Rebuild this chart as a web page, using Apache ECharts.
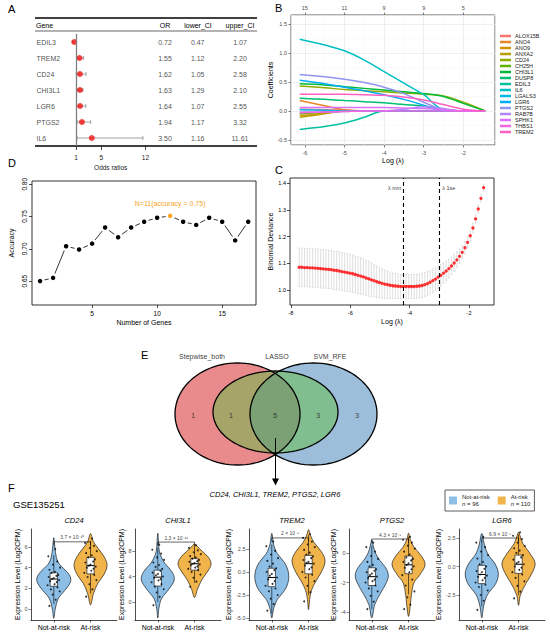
<!DOCTYPE html>
<html lang="en">
<head>
<meta charset="utf-8">
<title>Gene selection figure</title>
<script src="https://cdn.jsdelivr.net/npm/echarts@6/dist/echarts.min.js"></script>
<style>
  html, body { margin: 0; padding: 0; background: #fff; }
  #main { width: 550px; height: 637px; }
</style>
</head>
<body>
<div id="main"></div>
<script>
var FONT = "'Liberation Sans', Arial, Helvetica, sans-serif";

// ---------- A: odds ratio table ----------
var genesA = ['EDIL3', 'TREM2', 'CD24', 'CHI3L1', 'LGR6', 'PTGS2', 'IL6'];
var orVals = [0.72, 1.55, 1.62, 1.63, 1.64, 1.94, 3.50];
var lowerCI = [0.47, 1.12, 1.05, 1.29, 1.07, 1.17, 1.16];
var upperCI = [1.07, 2.20, 2.58, 2.10, 2.55, 3.32, 11.61];
var orTicks = [1, 5, 12];

// ---------- B: lasso coefficient paths ----------
var coefGenes = ['ALOX15B', 'ANO4', 'ANO9', 'ANXA2', 'CD24', 'CH25H', 'CHI3L1', 'DUSP8', 'EDIL3',
  'IL6', 'LGALS3', 'LGR6', 'PTGS2', 'RAB7B', 'SPHK1', 'THBS1', 'TREM2'];
var coefColors = ['#F8766D', '#E88526', '#D39200', '#B79F00', '#93AA00', '#5EB300', '#00BA38', '#00BF74',
  '#00C19F', '#00BFC4', '#00B9E3', '#00ADFA', '#8F95F0', '#AE87FF', '#DB72FB', '#F564E3', '#FF61C3'];
var pathLogLambda = [-6.13, -5.5, -5.0, -4.5, -4.0, -3.5, -3.0, -2.5, -2.0, -1.45];
var coefALOX15B = [0.03, 0.02, 0.01, 0, 0, 0, 0, 0, 0, 0];
var coefANO4 = [0.18, 0.09, 0.02, 0, 0, 0, 0, 0, 0, 0];
var coefANO9 = [-0.08, -0.04, 0, 0, 0, 0, 0, 0, 0, 0];
var coefANXA2 = [-0.11, -0.05, 0, 0, 0, 0, 0, 0, 0, 0];
var coefCD24 = [0.43, 0.40, 0.37, 0.35, 0.33, 0.31, 0.29, 0.26, 0.15, 0];
var coefCH25H = [-0.05, -0.02, 0, 0, 0, 0, 0, 0, 0, 0];
var coefCHI3L1 = [0.47, 0.45, 0.42, 0.39, 0.36, 0.33, 0.30, 0.25, 0.13, 0];
var coefDUSP8 = [0.22, 0.20, 0.18, 0.16, 0.14, 0.11, 0.08, 0.03, 0, 0];
var coefEDIL3 = [-0.32, -0.27, -0.21, -0.11, 0, 0, 0, 0, 0, 0];
var coefIL6 = [1.24, 1.14, 1.04, 0.88, 0.68, 0.48, 0.28, 0.02, 0, 0];
var coefLGALS3 = [0.02, 0.01, 0, 0, 0, 0, 0, 0, 0, 0];
var coefLGR6 = [0.53, 0.47, 0.41, 0.35, 0.28, 0.20, 0.10, 0, 0, 0];
var coefPTGS2 = [0.63, 0.59, 0.55, 0.49, 0.41, 0.30, 0.15, 0.02, 0, 0];
var coefRAB7B = [-0.02, -0.02, -0.01, 0, 0, 0.03, 0.07, 0.04, 0, 0];
var coefSPHK1 = [0.06, 0.06, 0.06, 0.06, 0.06, 0.05, 0.04, 0.02, 0, 0];
var coefTHBS1 = [-0.03, -0.02, -0.01, 0, 0, 0, 0, 0, 0, 0];
var coefTREM2 = [0.29, 0.29, 0.29, 0.28, 0.27, 0.24, 0.19, 0.11, 0.03, 0];
var coefPaths = [coefALOX15B, coefANO4, coefANO9, coefANXA2, coefCD24, coefCH25H, coefCHI3L1, coefDUSP8,
  coefEDIL3, coefIL6, coefLGALS3, coefLGR6, coefPTGS2, coefRAB7B, coefSPHK1, coefTHBS1, coefTREM2];
var dfLogLambda = [-6, -5, -4, -3, -2];
var dfCounts = [15, 11, 9, 9, 5];

// ---------- D: SVM-RFE accuracy ----------
var nGenes = [1, 2, 3, 4, 5, 6, 7, 8, 9, 10, 11, 12, 13, 14, 15, 16, 17];
var accuracy = [0.650, 0.655, 0.704, 0.699, 0.708, 0.733, 0.718, 0.733, 0.742, 0.748, 0.751,
  0.742, 0.737, 0.748, 0.742, 0.713, 0.742];
var bestN = 11;

// ---------- C: cross-validation deviance ----------
var cvLogLambda = [-7.72, -7.63, -7.54, -7.45, -7.36, -7.27, -7.18, -7.09, -7.00, -6.91, -6.82, -6.73,
  -6.64, -6.55, -6.46, -6.37, -6.28, -6.19, -6.10, -6.01, -5.92, -5.83, -5.74, -5.65, -5.56, -5.47,
  -5.38, -5.29, -5.20, -5.11, -5.02, -4.93, -4.84, -4.75, -4.66, -4.57, -4.48, -4.39, -4.30, -4.21,
  -4.12, -4.03, -3.94, -3.85, -3.76, -3.67, -3.58, -3.49, -3.40, -3.31, -3.22, -3.13, -3.04, -2.95,
  -2.86, -2.77, -2.68, -2.59, -2.50, -2.41, -2.32, -2.23, -2.14, -2.05, -1.96, -1.87, -1.78, -1.69,
  -1.60, -1.51];
var cvDeviance = [1.085, 1.085, 1.084, 1.084, 1.083, 1.083, 1.082, 1.081, 1.080, 1.079, 1.078, 1.077,
  1.076, 1.074, 1.073, 1.071, 1.069, 1.067, 1.065, 1.063, 1.061, 1.058, 1.055, 1.052, 1.049, 1.045,
  1.042, 1.038, 1.035, 1.031, 1.028, 1.025, 1.022, 1.020, 1.018, 1.016, 1.015, 1.014, 1.013, 1.013,
  1.013, 1.013, 1.013, 1.013, 1.014, 1.015, 1.017, 1.020, 1.024, 1.029, 1.035, 1.041, 1.048, 1.055,
  1.063, 1.071, 1.080, 1.090, 1.101, 1.113, 1.126, 1.141, 1.158, 1.178, 1.203, 1.232, 1.266, 1.303,
  1.343, 1.383];
var cvSE = [0.072, 0.072, 0.072, 0.072, 0.072, 0.072, 0.072, 0.072, 0.072, 0.072, 0.072, 0.072,
  0.072, 0.072, 0.072, 0.072, 0.071, 0.071, 0.071, 0.070, 0.070, 0.069, 0.069, 0.068, 0.067, 0.066,
  0.065, 0.063, 0.061, 0.059, 0.057, 0.055, 0.053, 0.051, 0.049, 0.048, 0.047, 0.046, 0.045, 0.045,
  0.045, 0.045, 0.045, 0.045, 0.045, 0.045, 0.045, 0.045, 0.045, 0.044, 0.044, 0.043, 0.042, 0.041,
  0.039, 0.037, 0.035, 0.033, 0.031, 0.029, 0.027, 0.025, 0.023, 0.021, 0.019, 0.018, 0.016, 0.015,
  0.014, 0.013];
var lambdaMin = -4.2;
var lambda1se = -2.99;

// ---------- E: venn ----------
var vennSets = ['Stepwise_both', 'LASSO', 'SVM_RFE'];
var vennCounts = [1, 1, 5, 3, 3];
var finalGenes = ['CD24', 'CHI3L1', 'TREM2', 'PTGS2', 'LGR6'];

// ---------- F: expression violins ----------
var exprGenes = ['CD24', 'CHI3L1', 'TREM2', 'PTGS2', 'LGR6'];
var groups = ['Not-at-risk', 'At-risk'];
var groupN = [96, 110];
var pLabels = ['3.7 \u00d7 10\u207b\u00b9\u2070', '1.3 \u00d7 10\u207b\u00b9\u00b9', '2 \u00d7 10\u207b\u2079',
  '4.3 \u00d7 10\u207b\u2079', '6.9 \u00d7 10\u207b\u2078'];
var sigY = [6.5, 9.4, 3.7, 0.95, 2.5];

// violin outlines: [value, half width]
var cd24NotViolin = [[-0.9, 0], [0, 0.04], [1, 0.12], [1.8, 0.3], [2.5, 0.44], [3.0, 0.46], [3.6, 0.36], [4.3, 0.16], [5, 0.07], [6, 0.03], [6.9, 0]];
var cd24AtViolin = [[0.4, 0], [1.5, 0.08], [2.5, 0.2], [3.3, 0.36], [4.2, 0.45], [5.0, 0.38], [5.8, 0.22], [6.5, 0.08], [7.3, 0]];
var chi3l1NotViolin = [[-2.5, 0], [-1, 0.03], [0.5, 0.1], [2, 0.3], [3.5, 0.45], [4.8, 0.38], [6, 0.2], [7, 0.1], [8, 0.04], [9.5, 0.02], [10.8, 0]];
var chi3l1AtViolin = [[0.7, 0], [2, 0.08], [3.5, 0.2], [5, 0.38], [6, 0.45], [7, 0.38], [8, 0.2], [8.7, 0.08], [9.1, 0]];
var trem2NotViolin = [[-5, 0], [-4, 0.05], [-3, 0.15], [-2, 0.35], [-1, 0.45], [0, 0.45], [1, 0.35], [2, 0.15], [3, 0.05], [4.2, 0]];
var trem2AtViolin = [[-4.1, 0], [-3, 0.03], [-2, 0.08], [-1, 0.2], [0, 0.35], [1.2, 0.45], [2.2, 0.35], [3.2, 0.15], [4, 0.05], [4.6, 0]];
var ptgs2NotViolin = [[-4.4, 0], [-3.5, 0.08], [-2.8, 0.22], [-2, 0.4], [-1.5, 0.45], [-1, 0.38], [-0.5, 0.22], [0, 0.1], [0.5, 0.04], [0.9, 0]];
var ptgs2AtViolin = [[-4.3, 0], [-3.5, 0.05], [-2.8, 0.08], [-2, 0.15], [-1.5, 0.3], [-0.8, 0.45], [-0.2, 0.35], [0.4, 0.15], [0.9, 0.05], [1.35, 0]];
var lgr6NotViolin = [[-4.5, 0], [-3.5, 0.05], [-2.5, 0.15], [-1.5, 0.38], [-0.6, 0.45], [0.3, 0.35], [1, 0.18], [1.8, 0.08], [2.9, 0]];
var lgr6AtViolin = [[-3.4, 0], [-2.5, 0.05], [-1.5, 0.2], [-0.5, 0.38], [0.3, 0.45], [1.2, 0.3], [2, 0.12], [2.6, 0.05], [3.0, 0]];

// boxes: [low whisker, q1, median, q3, high whisker]
var cd24Box = [[0.5, 2.2, 2.9, 3.5, 5.2], [1.5, 3.4, 4.2, 5.0, 6.6]];
var chi3l1Box = [[0, 2.5, 3.9, 5.0, 8.5], [3, 5.0, 6.0, 6.8, 8.9]];
var trem2Box = [[-4.5, -1.6, -0.6, 0.4, 3], [-2.5, -0.2, 0.9, 1.8, 4]];
var ptgs2Box = [[-3.8, -2.2, -1.6, -1.0, 0.5], [-2.8, -1.4, -0.8, -0.2, 1.1]];
var lgr6Box = [[-3.5, -1.5, -0.7, 0.1, 2.3], [-2.5, -0.6, 0.2, 1.0, 2.8]];

// sample points (read by eye, subset)
var cd24NotPts = [0.3, 0.9, 1.4, 1.7, 1.9, 2.1, 2.3, 2.4, 2.6, 2.7, 2.8, 2.9, 3.0, 3.1, 3.2, 3.3, 3.5, 3.6, 3.8, 4.0, 4.3, 4.6, 5.1, 5.8];
var cd24AtPts = [1.2, 1.9, 2.4, 2.8, 3.1, 3.3, 3.5, 3.7, 3.9, 4.0, 4.1, 4.2, 4.3, 4.5, 4.6, 4.8, 5.0, 5.2, 5.4, 5.6, 5.9, 6.1, 6.4, 6.8];
var chi3l1NotPts = [-0.5, 0.8, 1.5, 2.0, 2.4, 2.8, 3.1, 3.4, 3.6, 3.8, 4.0, 4.2, 4.4, 4.6, 4.9, 5.2, 5.5, 5.8, 6.2, 6.6, 7.0, 7.6, 8.2, 9.0];
var chi3l1AtPts = [2.4, 3.2, 3.8, 4.3, 4.7, 5.0, 5.2, 5.4, 5.6, 5.8, 5.9, 6.0, 6.1, 6.3, 6.4, 6.6, 6.8, 7.0, 7.2, 7.5, 7.8, 8.1, 8.5, 8.9];
var trem2NotPts = [-4.2, -3.5, -2.9, -2.5, -2.1, -1.8, -1.5, -1.3, -1.0, -0.8, -0.6, -0.4, -0.2, 0.0, 0.2, 0.4, 0.6, 0.9, 1.2, 1.5, 1.9, 2.3, 2.8, 3.3];
var trem2AtPts = [-3.2, -2.2, -1.5, -1.0, -0.6, -0.3, 0.0, 0.3, 0.5, 0.7, 0.9, 1.0, 1.1, 1.3, 1.5, 1.7, 1.9, 2.1, 2.4, 2.7, 3.0, 3.3, 3.7, 4.1];
var ptgs2NotPts = [-3.8, -3.3, -2.9, -2.6, -2.4, -2.2, -2.0, -1.9, -1.8, -1.7, -1.6, -1.5, -1.4, -1.3, -1.2, -1.1, -0.9, -0.8, -0.6, -0.4, -0.2, 0.1, 0.4, 0.7];
var ptgs2AtPts = [-3.8, -3.5, -3.0, -2.6, -2.2, -1.8, -1.5, -1.3, -1.1, -1.0, -0.9, -0.8, -0.7, -0.6, -0.5, -0.4, -0.3, -0.1, 0.1, 0.3, 0.5, 0.7, 0.9, 1.1];
var lgr6NotPts = [-3.8, -3.0, -2.5, -2.1, -1.8, -1.6, -1.4, -1.2, -1.0, -0.9, -0.8, -0.7, -0.5, -0.4, -0.2, 0.0, 0.2, 0.4, 0.7, 1.0, 1.3, 1.7, 2.1, 2.6];
var lgr6AtPts = [-2.8, -2.2, -1.7, -1.3, -1.0, -0.7, -0.5, -0.3, -0.1, 0.0, 0.2, 0.3, 0.4, 0.6, 0.8, 1.0, 1.2, 1.4, 1.6, 1.8, 2.1, 2.4, 2.7, 3.0];
var jitterX = [-0.12, 0.05, -0.03, 0.16, -0.08, 0.1, -0.17, 0.02, 0.08, -0.1, 0.14, -0.05, 0.0, -0.14, 0.07, 0.12, -0.06, 0.03, -0.12, 0.17, -0.02, 0.09, -0.15, 0.04];

var violinShapes = [[cd24NotViolin, cd24AtViolin], [chi3l1NotViolin, chi3l1AtViolin], [trem2NotViolin, trem2AtViolin],
  [ptgs2NotViolin, ptgs2AtViolin], [lgr6NotViolin, lgr6AtViolin]];
var boxStats = [cd24Box, chi3l1Box, trem2Box, ptgs2Box, lgr6Box];
var exprPoints = [[cd24NotPts, cd24AtPts], [chi3l1NotPts, chi3l1AtPts], [trem2NotPts, trem2AtPts],
  [ptgs2NotPts, ptgs2AtPts], [lgr6NotPts, lgr6AtPts]];

// ================= build chart =================
var chart = echarts.init(document.getElementById('main'), null, {renderer: 'svg'});

var grid = [], xAxis = [], yAxis = [], series = [], graphic = [];
function addPanel(g, xa, ya) {
  g.outerBoundsMode = 'none';
  g.containLabel = false;
  grid.push(g);
  var gi = grid.length - 1;
  xa.gridIndex = gi; ya.gridIndex = gi;
  xAxis.push(xa); yAxis.push(ya);
  return {x: xAxis.length - 1, y: yAxis.length - 1};
}
function txt(x, y, s, size, opt) {
  var st = {x: x, y: y, text: s, fontSize: size, fontFamily: FONT, fill: '#000', align: 'left', verticalAlign: 'middle'};
  for (var k in (opt || {})) st[k] = opt[k];
  graphic.push({type: 'text', silent: true, style: st});
}
function hline(x1, x2, y, w) {
  graphic.push({type: 'line', silent: true, shape: {x1: x1, y1: y, x2: x2, y2: y}, style: {stroke: '#000', lineWidth: w}});
}
var hidden = {show: false};

// panel letters
txt(8, 9, 'A', 11); txt(275, 8, 'B', 11); txt(8, 163, 'D', 11);
txt(275, 170, 'C', 11); txt(141, 355, 'E', 11); txt(8, 488, 'F', 11);

// ---------- A ----------
hline(35, 257, 18, 1.3); hline(35, 257, 31, 0.6); hline(35, 257, 146, 1.3);
txt(36, 25, 'Gene', 7);
txt(165, 25, 'OR', 7, {align: 'center'});
txt(198, 25, 'lower_CI', 7, {align: 'center'});
txt(240, 25, 'upper_CI', 7, {align: 'center'});

var tbl = addPanel({left: 35, top: 34, width: 222, height: 112},
  {type: 'value', min: 0, max: 222, show: false},
  {type: 'category', data: genesA, inverse: true, show: false});
var tableCols = [
  {x: 1, vals: genesA, left: true},
  {x: 130, vals: orVals},
  {x: 162.7, vals: lowerCI},
  {x: 205, vals: upperCI}
];
tableCols.forEach(function (c) {
  series.push({
    type: 'scatter', xAxisIndex: tbl.x, yAxisIndex: tbl.y, symbolSize: 1, silent: true,
    itemStyle: {color: 'rgba(0,0,0,0)'},
    data: c.vals.map(function (v, i) { return [c.x, i, typeof v === 'number' ? v.toFixed(2) : v]; }),
    label: {show: true, position: c.left ? 'right' : 'inside', distance: 0, fontSize: 7, color: '#222',
      fontFamily: FONT, formatter: function (p) { return p.value[2]; }}
  });
});

var fp = addPanel({left: 69.7, top: 34, width: 82, height: 112},
  {type: 'value', min: 0, max: 13, axisLine: {show: false, onZero: false}, splitLine: hidden,
    axisTick: {show: true, customValues: orTicks, length: 4, lineStyle: {color: '#000', width: 0.7}},
    axisLabel: {customValues: orTicks, fontSize: 6.5, color: '#222', margin: 8},
    name: 'Odds ratios', nameLocation: 'middle', nameGap: 18, nameTextStyle: {fontSize: 6.5, color: '#222'}},
  {type: 'category', data: genesA, inverse: true, show: false});
series.push({
  type: 'custom', xAxisIndex: fp.x, yAxisIndex: fp.y, z: 2, silent: true,
  data: genesA.map(function (g, i) { return [lowerCI[i], i, upperCI[i]]; }),
  encode: {x: [0, 2], y: 1},
  renderItem: function (params, api) {
    var a = api.coord([api.value(0), api.value(1)]);
    var b = api.coord([api.value(2), api.value(1)]);
    var st = {stroke: '#8C8C8C', lineWidth: 0.8};
    return {type: 'group', children: [
      {type: 'line', shape: {x1: a[0], y1: a[1], x2: b[0], y2: b[1]}, style: st},
      {type: 'line', shape: {x1: a[0], y1: a[1] - 2, x2: a[0], y2: a[1] + 2}, style: st},
      {type: 'line', shape: {x1: b[0], y1: b[1] - 2, x2: b[0], y2: b[1] + 2}, style: st}
    ]};
  }
});
series.push({
  type: 'scatter', xAxisIndex: fp.x, yAxisIndex: fp.y, z: 3, symbolSize: 6,
  itemStyle: {color: '#F01010'},
  data: orVals.map(function (v, i) { return [v, i]; }),
  markLine: {silent: true, symbol: 'none', label: {show: false},
    lineStyle: {color: '#7F7F7F', width: 1.3, type: 'solid'}, data: [{xAxis: 1}]}
});

// ---------- B ----------
var bp = addPanel({left: 291, top: 15, width: 204, height: 130, show: true, backgroundColor: '#fff',
    borderColor: '#333', borderWidth: 0.8},
  {type: 'value', min: -6.35, max: -1.2, axisLine: {show: false, onZero: false},
    splitLine: {lineStyle: {color: '#EBEBEB', width: 0.8}},
    minorTick: {show: false, splitNumber: 2}, minorSplitLine: {show: true, lineStyle: {color: '#F4F4F4', width: 0.5}},
    axisTick: {length: 2.5, lineStyle: {color: '#333', width: 0.6}},
    axisLabel: {fontSize: 5.5, color: '#4D4D4D', margin: 5, showMinLabel: false, showMaxLabel: false},
    name: 'Log (\u03bb)', nameLocation: 'middle', nameGap: 11, nameTextStyle: {fontSize: 7, color: '#000'}},
  {type: 'value', min: -0.59, max: 1.66, axisLine: {show: false, onZero: false},
    splitLine: {lineStyle: {color: '#EBEBEB', width: 0.8}},
    minorTick: {show: false, splitNumber: 2}, minorSplitLine: {show: true, lineStyle: {color: '#F4F4F4', width: 0.5}},
    axisTick: {show: true, length: 2.5, lineStyle: {color: '#333', width: 0.6}},
    axisLabel: {fontSize: 5.5, color: '#4D4D4D', margin: 4, showMinLabel: false, showMaxLabel: false,
      formatter: function (v) { return v.toFixed(1); }},
    name: 'Coefficients', nameLocation: 'middle', nameGap: 15, nameTextStyle: {fontSize: 7, color: '#000'}});
xAxis.push({gridIndex: grid.length - 1, type: 'value', position: 'top', min: -6.35, max: -1.2,
  axisLine: {show: false, onZero: false}, splitLine: hidden,
  axisTick: {show: true, customValues: dfLogLambda, length: 2.5, lineStyle: {color: '#333', width: 0.6}},
  axisLabel: {customValues: dfLogLambda, fontSize: 5.5, color: '#4D4D4D', margin: 4,
    formatter: function (v) { return String(dfCounts[dfLogLambda.indexOf(v)]); }}});
coefGenes.forEach(function (g, k) {
  series.push({
    type: 'line', name: g, xAxisIndex: bp.x, yAxisIndex: bp.y, smooth: 0.35, showSymbol: false,
    symbol: 'none', silent: true, z: 3,
    lineStyle: {width: 1.5, color: coefColors[k]}, itemStyle: {color: coefColors[k]},
    data: coefPaths[k].map(function (v, i) { return [pathLogLambda[i], v]; })
  });
});

// ---------- D ----------
var dp = addPanel({left: 32, top: 181, width: 224, height: 124, show: true, borderColor: '#000', borderWidth: 0.8},
  {type: 'value', min: 0.38, max: 17.6, splitLine: hidden, axisLine: {show: false, onZero: false},
    axisTick: {customValues: [5, 10, 15], length: 3, lineStyle: {color: '#000', width: 0.7}},
    axisLabel: {customValues: [5, 10, 15], fontSize: 6.5, color: '#000', margin: 5},
    name: 'Number of Genes', nameLocation: 'middle', nameGap: 14, nameTextStyle: {fontSize: 7, color: '#000'}},
  {type: 'value', min: 0.613, max: 0.805, splitLine: hidden, axisLine: {show: false, onZero: false},
    axisTick: {customValues: [0.65, 0.7, 0.75, 0.8], length: 3, lineStyle: {color: '#000', width: 0.7}},
    axisLabel: {customValues: [0.65, 0.7, 0.75, 0.8], rotate: 90, fontSize: 6.5, color: '#000', margin: 4,
      formatter: function (v) { return v.toFixed(2); }},
    name: 'Accuracy', nameLocation: 'middle', nameGap: 17, nameTextStyle: {fontSize: 7, color: '#000'}});
series.push({
  type: 'line', xAxisIndex: dp.x, yAxisIndex: dp.y, symbol: 'circle', symbolSize: 7, z: 3, silent: true,
  lineStyle: {color: '#000', width: 0.8},
  itemStyle: {color: '#000', borderColor: '#fff', borderWidth: 2.5},
  data: accuracy.map(function (v, i) {
    if (nGenes[i] === bestN) {
      return {value: [nGenes[i], v], itemStyle: {color: '#F8A51C'},
        label: {show: true, position: 'top', distance: 4, fontSize: 7, color: '#F8A51C',
          formatter: 'N=' + bestN + '(accuracy = ' + v.toFixed(2) + ')'}};
    }
    return [nGenes[i], v];
  })
});

// ---------- C ----------
var cp = addPanel({left: 290, top: 178, width: 204, height: 127, show: true, borderColor: '#000', borderWidth: 0.8},
  {type: 'value', min: -8.03, max: -1.16, splitLine: hidden, axisLine: {show: false, onZero: false},
    axisTick: {customValues: [-8, -6, -4, -2], length: 3, lineStyle: {color: '#000', width: 0.7}},
    axisLabel: {customValues: [-8, -6, -4, -2], fontSize: 5.5, color: '#000', margin: 4.5},
    name: 'Log (\u03bb)', nameLocation: 'middle', nameGap: 13, nameTextStyle: {fontSize: 7, color: '#000'}},
  {type: 'value', min: 0.944, max: 1.419, splitLine: hidden, axisLine: {show: false, onZero: false},
    axisTick: {customValues: [1.0, 1.1, 1.2, 1.3, 1.4], length: 3, lineStyle: {color: '#000', width: 0.7}},
    axisLabel: {customValues: [1.0, 1.1, 1.2, 1.3, 1.4], fontSize: 5.5, color: '#000', margin: 4,
      formatter: function (v) { return v.toFixed(1); }},
    name: 'Binomial Deviance', nameLocation: 'middle', nameGap: 14, nameTextStyle: {fontSize: 7, color: '#000'}});
series.push({
  type: 'custom', xAxisIndex: cp.x, yAxisIndex: cp.y, z: 2, silent: true,
  data: cvLogLambda.map(function (x, i) { return [x, cvDeviance[i] - cvSE[i], cvDeviance[i] + cvSE[i]]; }),
  encode: {x: 0, y: [1, 2]},
  renderItem: function (params, api) {
    var a = api.coord([api.value(0), api.value(1)]);
    var b = api.coord([api.value(0), api.value(2)]);
    var st = {stroke: '#C4C4C4', lineWidth: 0.55};
    return {type: 'group', children: [
      {type: 'line', shape: {x1: a[0], y1: a[1], x2: b[0], y2: b[1]}, style: st},
      {type: 'line', shape: {x1: a[0] - 0.8, y1: a[1], x2: a[0] + 0.8, y2: a[1]}, style: st},
      {type: 'line', shape: {x1: b[0] - 0.8, y1: b[1], x2: b[0] + 0.8, y2: b[1]}, style: st}
    ]};
  }
});
series.push({
  type: 'scatter', xAxisIndex: cp.x, yAxisIndex: cp.y, z: 3, symbolSize: 3.3, silent: true,
  itemStyle: {color: '#FF0000'},
  data: cvLogLambda.map(function (x, i) { return [x, cvDeviance[i]]; }),
  markLine: {silent: true, symbol: 'none', label: {show: false},
    lineStyle: {color: '#000', width: 1.1, type: [4, 3]},
    data: [{xAxis: lambdaMin}, {xAxis: lambda1se}]}
});
series.push({
  type: 'scatter', xAxisIndex: cp.x, yAxisIndex: cp.y, z: 4, symbolSize: 1, silent: true,
  itemStyle: {color: 'rgba(0,0,0,0)'},
  data: [
    {value: [lambdaMin, 1.381], label: {position: 'left', formatter: '\u03bb min'}},
    {value: [lambda1se, 1.381], label: {position: 'right', formatter: '\u03bb 1se'}}
  ],
  label: {show: true, distance: 2, fontSize: 5.5, color: '#000'}
});

// ---------- E ----------
var vp = addPanel({left: 150, top: 340, width: 250, height: 150},
  {type: 'value', min: 0, max: 250, show: false},
  {type: 'value', min: 0, max: 150, inverse: true, show: false});
var vennShapes = [
  {cx: 87.5, cy: 74, rx: 62.5, ry: 51, fill: 'rgba(211,23,25,0.5)'},
  {cx: 163.5, cy: 74, rx: 63.5, ry: 51, fill: 'rgba(59,125,183,0.5)'},
  {cx: 125.5, cy: 72, rx: 62.5, ry: 41, fill: 'rgba(100,190,70,0.5)'}
];
function ellipseItem(outlineOnly) {
  return function (params, api) {
    var s = vennShapes[params.dataIndex], pts = [];
    for (var t = 0; t < 96; t++) {
      var a = t / 96 * 2 * Math.PI;
      pts.push(api.coord([s.cx + s.rx * Math.cos(a), s.cy + s.ry * Math.sin(a)]));
    }
    return {type: 'polygon', shape: {points: pts},
      style: {fill: outlineOnly ? 'none' : s.fill, stroke: outlineOnly ? '#000' : 'none', lineWidth: 1.3}};
  };
}
[false, true].forEach(function (o) {
  series.push({type: 'custom', xAxisIndex: vp.x, yAxisIndex: vp.y, z: o ? 3 : 2, silent: true,
    data: vennShapes.map(function (s) { return [s.cx, s.cy]; }), renderItem: ellipseItem(o)});
});
var vennCountPos = [[43, 75], [81, 75], [125, 75], [168, 75], [207, 75]];
series.push({
  type: 'scatter', xAxisIndex: vp.x, yAxisIndex: vp.y, z: 4, symbolSize: 1, silent: true,
  itemStyle: {color: 'rgba(0,0,0,0)'},
  data: vennCounts.map(function (c, i) { return [vennCountPos[i][0], vennCountPos[i][1], c]; }),
  label: {show: true, position: 'inside', fontSize: 7.5, color: '#222', formatter: function (p) { return p.value[2]; }},
  markLine: {silent: true, symbol: ['none', 'triangle'], symbolSize: 7, label: {show: false},
    itemStyle: {color: '#000'},
    lineStyle: {color: '#000', width: 1, type: 'solid'},
    data: [[{coord: [125.5, 98]}, {coord: [125.5, 142]}]]}
});
var vennNamePos = [[52, 16], [127, 16], [180, 16]];
series.push({
  type: 'scatter', xAxisIndex: vp.x, yAxisIndex: vp.y, z: 4, symbolSize: 1, silent: true,
  itemStyle: {color: 'rgba(0,0,0,0)'},
  data: vennSets.map(function (s, i) { return [vennNamePos[i][0], vennNamePos[i][1], s]; }),
  label: {show: true, position: 'inside', fontSize: 7, color: '#000', formatter: function (p) { return p.value[2]; }}
});
txt(275, 494, finalGenes.join(', '), 7.5, {align: 'center', fontStyle: 'italic'});

// ---------- F ----------
txt(13, 504, 'GSE135251', 9.5);
var groupColors = ['#8CBEE6', '#F0B44B'];
var vLayout = [
  {left: 31, min: -1.06, max: 7.74, ticks: [0, 2, 4, 6], dec: 0, gap: 10.5},
  {left: 135, min: -2.82, max: 11.45, ticks: [0, 4, 8], dec: 0, gap: 8.5},
  {left: 249, min: -5.22, max: 4.67, ticks: [-5, -2.5, 0, 2.5], dec: 1, gap: 15.5},
  {left: 349, min: -4.54, max: 1.63, ticks: [-4, -2, 0], dec: 0, gap: 10.5},
  {left: 459, min: -4.69, max: 3.29, ticks: [-2.5, 0, 2.5], dec: 1, gap: 13.5}
];
function violinItem(prof, box, g, color) {
  return function (params, api) {
    var pts = [];
    prof.forEach(function (p) { pts.push(api.coord([g + p[1], p[0]])); });
    for (var i = prof.length - 2; i >= 1; i--) pts.push(api.coord([g - prof[i][1], prof[i][0]]));
    var bw = 0.1;
    var q1L = api.coord([g - bw, box[1]]), q3R = api.coord([g + bw, box[3]]);
    var mL = api.coord([g - bw, box[2]]), mR = api.coord([g + bw, box[2]]);
    var lo = api.coord([g, box[0]]), q1 = api.coord([g, box[1]]), q3 = api.coord([g, box[3]]), hi = api.coord([g, box[4]]);
    var st = {stroke: '#000', lineWidth: 0.6};
    return {type: 'group', children: [
      {type: 'polygon', shape: {points: pts, smooth: 0.35}, style: {fill: color, stroke: '#000', lineWidth: 0.6}},
      {type: 'line', shape: {x1: lo[0], y1: lo[1], x2: q1[0], y2: q1[1]}, style: st},
      {type: 'line', shape: {x1: q3[0], y1: q3[1], x2: hi[0], y2: hi[1]}, style: st},
      {type: 'rect', shape: {x: q1L[0], y: q3R[1], width: q3R[0] - q1L[0], height: q1L[1] - q3R[1]},
        style: {fill: '#fff', stroke: '#000', lineWidth: 0.6}},
      {type: 'line', shape: {x1: mL[0], y1: mL[1], x2: mR[0], y2: mR[1]}, style: {stroke: '#000', lineWidth: 1}}
    ]};
  };
}
vLayout.forEach(function (L, k) {
  var p = addPanel({left: L.left, top: 529, width: 86, height: 91},
    {type: 'value', min: -0.62, max: 1.72, splitLine: hidden,
      axisLine: {show: true, onZero: false, lineStyle: {color: '#000', width: 0.7}},
      axisTick: {customValues: [0, 1], length: 2.5, lineStyle: {color: '#000', width: 0.6}},
      axisLabel: {customValues: [0, 1], fontSize: 7, color: '#000', margin: 4,
        formatter: function (v) { return groups[Math.round(v)]; }}},
    {type: 'value', min: L.min, max: L.max, splitLine: hidden,
      axisLine: {show: true, onZero: false, lineStyle: {color: '#000', width: 0.7}},
      axisTick: {customValues: L.ticks, length: 2.5, lineStyle: {color: '#333', width: 0.6}},
      axisLabel: {customValues: L.ticks, fontSize: 5.5, color: '#4D4D4D', margin: 3.5,
        formatter: function (v) { return v.toFixed(L.dec); }},
      name: 'Expression Level (Log2CPM)', nameLocation: 'middle', nameGap: L.gap,
      nameTextStyle: {fontSize: 7, color: '#000'}});
  txt(L.left + 43, 520, exprGenes[k], 7.5, {align: 'center', fontStyle: 'italic'});
  [0, 1].forEach(function (g) {
    series.push({
      type: 'custom', name: groups[g], xAxisIndex: p.x, yAxisIndex: p.y, z: 2, silent: true,
      itemStyle: {color: groupColors[g]},
      data: [[g, boxStats[k][g][2]]],
      renderItem: violinItem(violinShapes[k][g], boxStats[k][g], g, groupColors[g])
    });
    series.push({
      type: 'scatter', xAxisIndex: p.x, yAxisIndex: p.y, z: 4, symbolSize: 1.9, silent: true,
      itemStyle: {color: '#000'},
      data: exprPoints[k][g].map(function (v, i) { return [g + jitterX[i % jitterX.length], v]; })
    });
  });
  var tip = 0.04 * (L.max - L.min);
  series.push({
    type: 'line', xAxisIndex: p.x, yAxisIndex: p.y, z: 5, symbol: 'none', silent: true,
    lineStyle: {color: '#000', width: 0.6},
    data: [[0, sigY[k] - tip], [0, sigY[k]], [1, sigY[k]], [1, sigY[k] - tip]]
  });
  series.push({
    type: 'scatter', xAxisIndex: p.x, yAxisIndex: p.y, z: 5, symbolSize: 1, silent: true,
    itemStyle: {color: 'rgba(0,0,0,0)'},
    data: [[0.5, sigY[k]]],
    label: {show: true, position: 'top', distance: 1.5, fontSize: 5, color: '#000', formatter: pLabels[k]}
  });
});

chart.setOption({
  animation: false,
  textStyle: {fontFamily: FONT},
  grid: grid, xAxis: xAxis, yAxis: yAxis, series: series, graphic: graphic,
  legend: [
    {data: coefGenes, orient: 'vertical', left: 500, top: 33, icon: 'rect', itemWidth: 11, itemHeight: 2.5,
      itemGap: 0, padding: 0, selectedMode: false,
      textStyle: {fontSize: 5.5, lineHeight: 5.5, color: '#222', padding: [0, 0, 0, -1]}},
    {data: groups, orient: 'horizontal', left: 445, top: 490, icon: 'rect', itemWidth: 8, itemHeight: 8,
      itemGap: 8, padding: [3, 4], selectedMode: false, borderColor: '#333', borderWidth: 0.8,
      formatter: function (name) { return name + '\n{it|n} = ' + groupN[groups.indexOf(name)]; },
      textStyle: {fontSize: 6, lineHeight: 7.5, color: '#222', rich: {it: {fontStyle: 'italic', fontSize: 6}}}}
  ]
});
</script>
</body>
</html>
